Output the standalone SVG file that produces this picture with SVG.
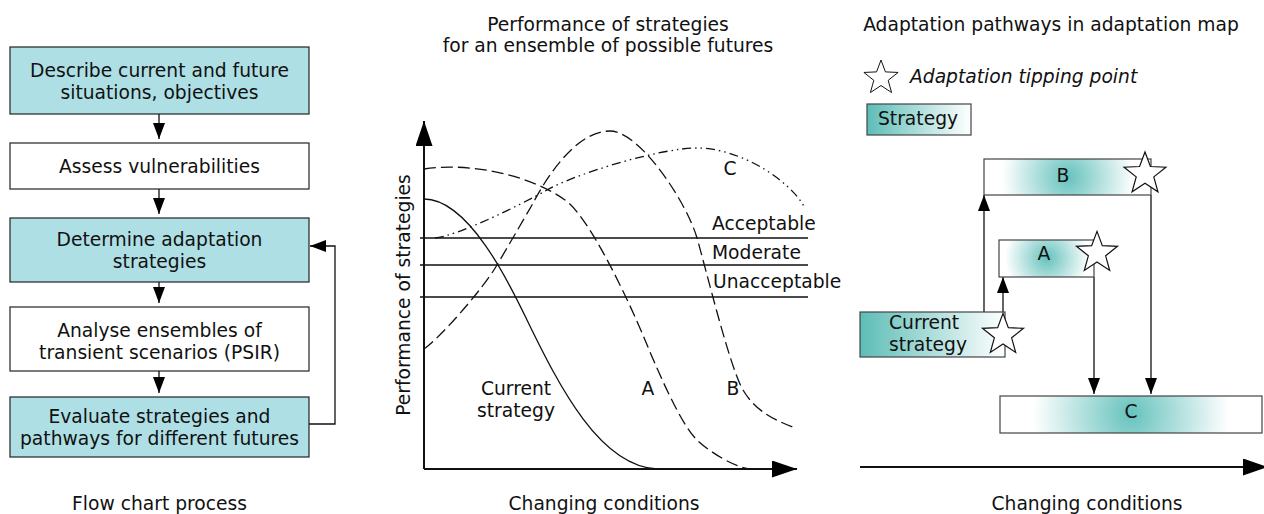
<svg xmlns="http://www.w3.org/2000/svg" xmlns:xlink="http://www.w3.org/1999/xlink" width="1264" height="514" viewBox="0 0 1264 514">
<style>
text{font-family:"DejaVu Sans","Liberation Sans",sans-serif;font-size:18.7px;fill:#111}
.m{text-anchor:middle}
.box{stroke:#222;stroke-width:1.2}
.blue{fill:#AEDFE5}
.white{fill:#fff}
.ln{fill:none;stroke:#111;stroke-width:1.3}
.ax{fill:none;stroke:#111;stroke-width:2}
.crv{fill:none;stroke:#111;stroke-width:1.3}
.dash{stroke-dasharray:12 5}
.dd{stroke-dasharray:9 4 1.5 4 1.5 4}
.star{fill:#fff;stroke:#111;stroke-width:1.1}
.sbox{stroke:#444;stroke-width:1.2}
</style>
<defs>
<marker id="ah" viewBox="0 0 16 12" refX="16" refY="6" markerWidth="16" markerHeight="12" markerUnits="userSpaceOnUse" orient="auto"><path d="M0,0L16,6L0,12z" fill="#000"/></marker>
<marker id="ahL" viewBox="0 0 25 17" refX="25" refY="8.5" markerWidth="25" markerHeight="17" markerUnits="userSpaceOnUse" orient="auto"><path d="M0,0L25,8.5L0,17z" fill="#000"/></marker>
<path id="star" d="M0,-20L4.94,-6.8L19.02,-6.18L7.99,2.6L11.76,16.18L0,8.4L-11.76,16.18L-7.99,2.6L-19.02,-6.18L-4.94,-6.8Z"/>
<linearGradient id="lin" x1="0" y1="0" x2="1" y2="0"><stop offset="0" stop-color="#5DBDB7"/><stop offset="1" stop-color="#fff"/></linearGradient>
<radialGradient id="gB" gradientUnits="userSpaceOnUse" cx="1068" cy="177" r="66"><stop offset="0" stop-color="#66C2BD"/><stop offset="1" stop-color="#fff"/></radialGradient>
<radialGradient id="gA" gradientUnits="userSpaceOnUse" cx="1047" cy="258" r="42"><stop offset="0" stop-color="#66C2BD"/><stop offset="1" stop-color="#fff"/></radialGradient>
<radialGradient id="gC" gradientUnits="userSpaceOnUse" cx="1131" cy="414" r="98"><stop offset="0" stop-color="#66C2BD"/><stop offset="1" stop-color="#fff"/></radialGradient>
</defs>
<rect width="1264" height="514" fill="#fff"/>

<!-- Flow chart -->
<g id="fc-describe"><rect class="box blue" x="10" y="47" width="299" height="67"/><text class="m" x="159.5" y="77">Describe current and future</text><text class="m" x="159.5" y="99">situations, objectives</text></g>
<g id="fc-assess"><rect class="box white" x="10" y="143" width="299" height="46"/><text class="m" x="159.5" y="173">Assess vulnerabilities</text></g>
<g id="fc-determine"><rect class="box blue" x="10" y="218" width="299" height="64"/><text class="m" x="159.5" y="246">Determine adaptation</text><text class="m" x="159.5" y="268">strategies</text></g>
<g id="fc-analyse"><rect class="box white" x="10" y="307" width="299" height="64"/><text class="m" x="159.5" y="337">Analyse ensembles of</text><text class="m" x="159.5" y="359">transient scenarios (PSIR)</text></g>
<g id="fc-evaluate"><rect class="box blue" x="10" y="397" width="299" height="60"/><text class="m" x="159.5" y="423">Evaluate strategies and</text><text class="m" x="159.5" y="445">pathways for different futures</text></g>
<g id="fc-connectors">
<path class="ln" d="M159,114V139" marker-end="url(#ah)"/>
<path class="ln" d="M159,189V214" marker-end="url(#ah)"/>
<path class="ln" d="M159,282V303" marker-end="url(#ah)"/>
<path class="ln" d="M159,371V393" marker-end="url(#ah)"/>
<path class="ln" d="M309,424H335V246H310" marker-end="url(#ah)"/>
</g>
<text class="m" x="159.5" y="510">Flow chart process</text>

<!-- Performance chart -->
<g id="perf-chart">
<text class="m" x="608" y="31">Performance of strategies</text>
<text class="m" x="608" y="52">for an ensemble of possible futures</text>
<text class="m" transform="translate(410,295) rotate(-90)">Performance of strategies</text>
<path class="ln" d="M420,238H808M420,265H808M420,297H808"/>
<path class="ax" d="M424,469V121" marker-end="url(#ahL)"/>
<path class="ax" d="M424,469H797" marker-end="url(#ahL)"/>
<path class="crv" d="M424,199C470,199 512,289 527,320C560,388 600,466 657,469"/>
<path class="crv dash" d="M424,169C470,162 530,175 565,200C588,216 625,292 645,340C655,364 680,424 697,440C712,454 735,467 750,469"/>
<path class="crv dash" d="M424,349C440,338 483,289 497,265C510,243 532,205 532,205C545,180 575,131 610,131C640,131 687,203 697,238C707,273 730,368 743,390C756,412 775,420 795,428"/>
<path class="crv dd" d="M435,238C460,235 520,205 547,190C575,174 660,148 697,148C740,148 790,180 805,208"/>
<text x="712" y="230">Acceptable</text>
<text x="712" y="259">Moderate</text>
<text x="713" y="288">Unacceptable</text>
<text class="m" x="730" y="175">C</text>
<text class="m" x="516" y="395">Current</text>
<text class="m" x="516" y="417">strategy</text>
<text class="m" x="648" y="395">A</text>
<text class="m" x="733" y="395">B</text>
<text class="m" x="604" y="510">Changing conditions</text>
</g>

<!-- Adaptation map -->
<text class="m" x="1051" y="31">Adaptation pathways in adaptation map</text>
<g id="legend-star"><use href="#star" class="star" transform="translate(881,78) scale(0.9)"/><text x="910" y="83" font-style="italic">Adaptation tipping point</text></g>
<g id="legend-strategy"><rect class="sbox" x="867" y="104" width="104" height="31" fill="url(#lin)"/><text x="878" y="125">Strategy</text></g>
<g id="map-connectors">
<path class="ln" d="M984,312V195" marker-end="url(#ah)"/>
<path class="ln" d="M1003,312V277" marker-end="url(#ah)"/>
<path class="ln" d="M1094,277V394" marker-end="url(#ah)"/>
<path class="ln" d="M1151,195V394" marker-end="url(#ah)"/>
<path class="ax" d="M860,467H1268" marker-end="url(#ahL)"/>
</g>
<g id="strategy-B"><rect class="sbox" x="984" y="159" width="167" height="36" fill="url(#gB)"/><text class="m" x="1063" y="182">B</text><use href="#star" class="star" transform="translate(1145,174) scale(1.1)"/></g>
<g id="strategy-A"><rect class="sbox" x="999" y="240" width="95" height="37" fill="url(#gA)"/><text class="m" x="1044" y="260">A</text><use href="#star" class="star" transform="translate(1097,253) scale(1.08)"/></g>
<g id="strategy-current"><rect class="sbox" x="860" y="312" width="145" height="45" fill="url(#lin)"/><text x="889" y="329">Current</text><text x="889" y="351">strategy</text><use href="#star" class="star" transform="translate(1003,335) scale(1.08)"/></g>
<g id="strategy-C"><rect class="sbox" x="1000" y="396" width="262" height="37" fill="url(#gC)"/><text class="m" x="1131" y="418">C</text></g>
<text class="m" x="1087" y="510">Changing conditions</text>
</svg>
